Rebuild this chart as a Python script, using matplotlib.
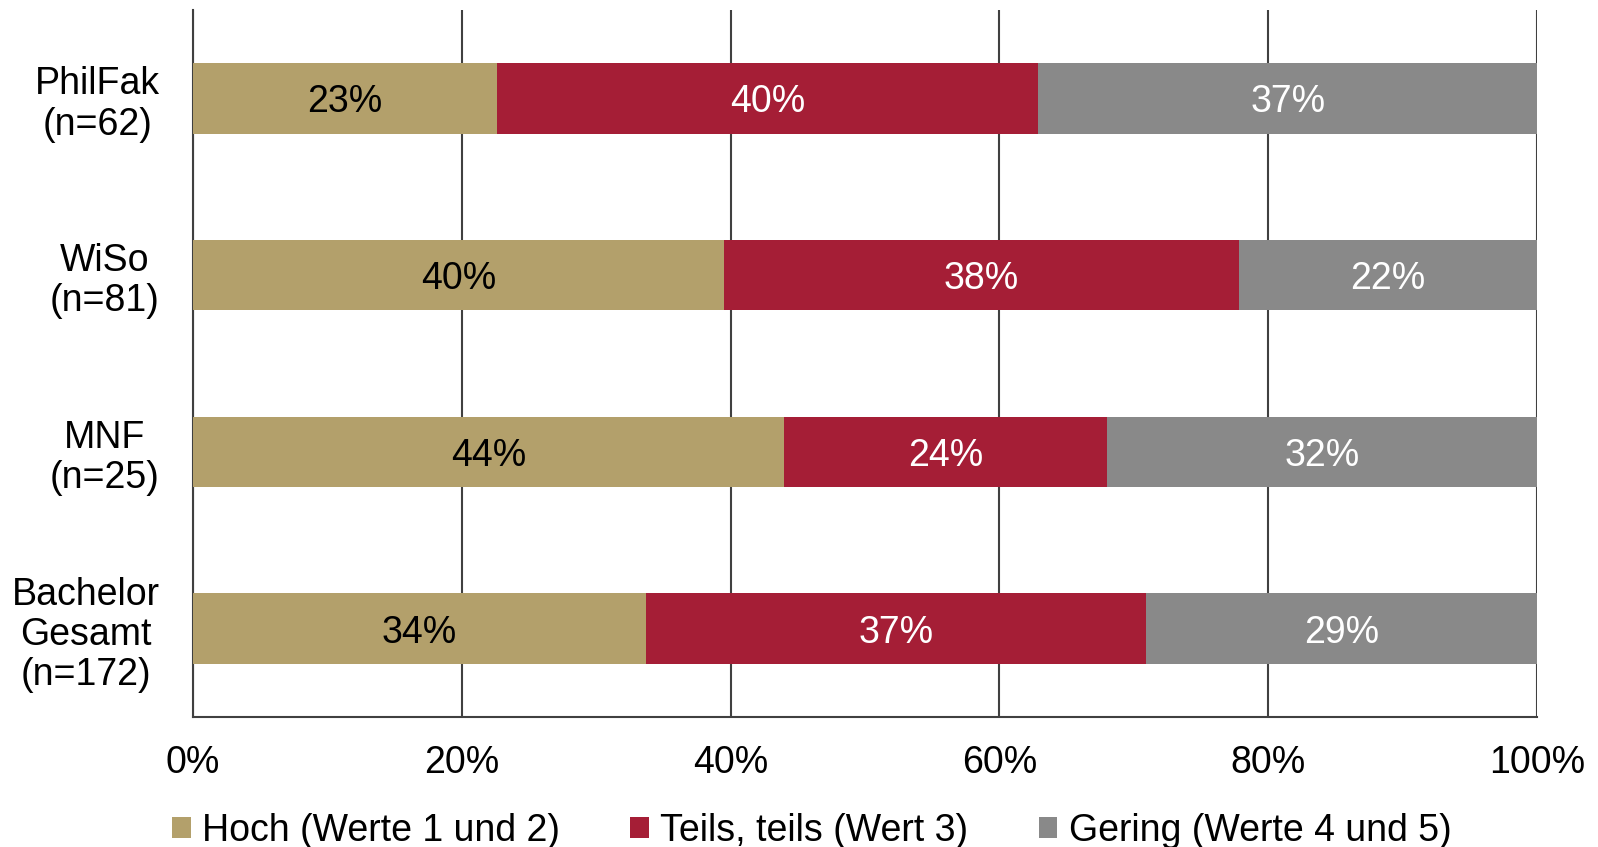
import matplotlib
matplotlib.use("Agg")
import matplotlib.pyplot as plt
import numpy as np

plt.rcParams['font.family'] = ['Liberation Sans', 'DejaVu Sans']

# data (shares in percent)
groups = ['PhilFak\n(n=62)', 'WiSo\n(n=81)', 'MNF\n(n=25)', 'Bachelor\nGesamt\n(n=172)']
hoch = [22.6, 39.5, 44.0, 33.7]
teils = [40.3, 38.3, 24.0, 37.2]
gering = [37.1, 22.2, 32.0, 29.1]
series_names = ['Hoch (Werte 1 und 2)', 'Teils, teils (Wert 3)', 'Gering (Werte 4 und 5)']

colors = ['#B3A06B', '#A51E36', '#898989']
text_colors = ['black', 'white', 'white']
fs = 27

fig = plt.figure(figsize=(15.98, 8.47), dpi=100)
ax = fig.add_axes([193/1598, 1 - 717/847, (1537-193)/1598, (717-10)/847])

y = np.arange(len(groups))
left = np.zeros(len(groups))
for vals, col, tcol, name in zip([hoch, teils, gering], colors, text_colors, series_names):
    vals = np.array(vals)
    ax.barh(y, vals, left=left, height=0.40, color=col, label=name, zorder=3)
    for yi, l, v in zip(y, left, vals):
        ax.text(l + v / 2, yi, f'{v:.0f}%', ha='center', va='center_baseline',
                color=tcol, fontsize=fs, zorder=4)
    left += vals

ax.set_xlim(0, 100)
ax.set_ylim(len(groups) - 0.5, -0.5)
ax.set_xticks(np.arange(0, 101, 20))
ax.set_xticklabels([f'{t}%' for t in range(0, 101, 20)])
ax.set_yticks(y)
ax.set_yticklabels(groups, multialignment='center', linespacing=1.15)
ax.tick_params(axis='x', length=0, pad=20, labelsize=fs)
ax.tick_params(axis='y', length=0, pad=24, labelsize=fs)

ax.grid(axis='x', color='#404040', linewidth=1.5, zorder=1)
for s in ['top', 'right']:
    ax.spines[s].set_visible(False)
for s in ['left', 'bottom']:
    ax.spines[s].set_color('#404040')
    ax.spines[s].set_linewidth(1.5)

fig.legend(loc='lower center', bbox_to_anchor=(0.508, -0.042), ncol=3, frameon=False,
           fontsize=fs, handlelength=0.5, handleheight=0.5, handletextpad=0.3,
           columnspacing=1.87)

fig.savefig('out.png', dpi=100)
